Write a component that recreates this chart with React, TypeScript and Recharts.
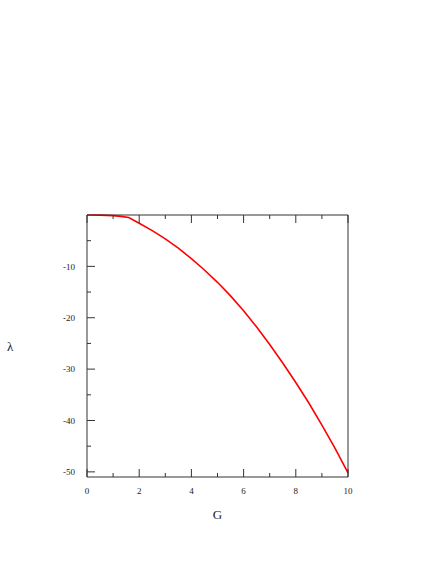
import React from 'react';
import { LineChart, Line, XAxis, YAxis } from 'recharts';

const gValues = [0, 0.5, 1, 1.3, 1.6, 2, 2.5, 3, 3.5, 4, 4.5, 5, 5.5, 6, 6.5, 7, 7.5, 8, 8.5, 9, 9.5, 10];
const lambdaValues = [0, -0.03, -0.12, -0.26, -0.48, -1.6, -3.05, -4.65, -6.45, -8.5, -10.7, -13.1, -15.75, -18.65, -21.8, -25.2, -28.8, -32.6, -36.6, -40.9, -45.4, -50.2];
const xTicks = [0, 1, 2, 3, 4, 5, 6, 7, 8, 9, 10];
const yTicks = [-50, -45, -40, -35, -30, -25, -20, -15, -10, -5];

const data = gValues.map((g, i) => ({ g, lambda: lambdaValues[i] }));

const FONT = '"Liberation Serif", "DejaVu Serif", serif';
const AXIS = '#333';

const BottomTick = (props: any) => {
  const { x, y, payload } = props;
  const major = payload.value % 2 === 0;
  return (
    <g>
      <line x1={x} y1={y} x2={x} y2={y - (major ? 8 : 4)} stroke={AXIS} strokeWidth={1} />
      {major && (
        <text x={x} y={y + 17} textAnchor="middle" fontSize={9} fontFamily={FONT} fill="#222">
          {payload.value}
        </text>
      )}
    </g>
  );
};

const TopTick = (props: any) => {
  const { x, y, payload } = props;
  const major = payload.value % 2 === 0;
  return <line x1={x} y1={y} x2={x} y2={y + (major ? 8 : 4)} stroke={AXIS} strokeWidth={1} />;
};

const LeftTick = (props: any) => {
  const { x, y, payload } = props;
  const major = payload.value % 10 === 0;
  return (
    <g>
      <line x1={x} y1={y} x2={x + (major ? 8 : 4)} y2={y} stroke={AXIS} strokeWidth={1} />
      {major && (
        <text x={x - 12} y={y} dy="0.35em" textAnchor="end" fontSize={9} fontFamily={FONT} fill="#222">
          {payload.value}
        </text>
      )}
    </g>
  );
};

const RightTick = (props: any) => {
  const { x, y, payload } = props;
  const major = payload.value % 10 === 0;
  return <line x1={x} y1={y} x2={x - (major ? 8 : 4)} y2={y} stroke={AXIS} strokeWidth={1} />;
};

export default function App() {
  return (
    <div style={{ position: 'fixed', left: 0, top: 0, width: 436, height: 564, background: '#fff' }}>
      <LineChart width={436} height={564} data={data} margin={{ top: 214, right: 87, bottom: 37, left: 0 }}>
        <XAxis
          xAxisId="bottom"
          dataKey="g"
          type="number"
          domain={[0, 10]}
          ticks={xTicks}
          interval={0}
          tickLine={false}
          tickSize={0}
          tickMargin={0}
          tick={<BottomTick />}
          axisLine={{ stroke: AXIS, strokeWidth: 1 }}
          height={50}
          orientation="bottom"
          label={{ value: 'G', position: 'insideBottom', offset: 8, fontSize: 13, fontFamily: FONT, fill: '#222' }}
        />
        <XAxis
          xAxisId="top"
          dataKey="g"
          type="number"
          domain={[0, 10]}
          ticks={xTicks}
          interval={0}
          tickLine={false}
          tickSize={0}
          tickMargin={0}
          tick={<TopTick />}
          axisLine={{ stroke: AXIS, strokeWidth: 1 }}
          height={1}
          orientation="top"
        />
        <YAxis
          yAxisId="left"
          type="number"
          domain={[-51, 0]}
          ticks={yTicks}
          interval={0}
          tickLine={false}
          tickSize={0}
          tickMargin={0}
          tick={<LeftTick />}
          axisLine={{ stroke: AXIS, strokeWidth: 1 }}
          width={87}
          orientation="left"
          label={{ value: 'λ', position: 'insideLeft', offset: 7, angle: 0, fontSize: 13, fontFamily: FONT, fill: '#222' }}
        />
        <YAxis
          yAxisId="right"
          type="number"
          domain={[-51, 0]}
          ticks={yTicks}
          interval={0}
          tickLine={false}
          tickSize={0}
          tickMargin={0}
          tick={<RightTick />}
          axisLine={{ stroke: AXIS, strokeWidth: 1 }}
          width={1}
          orientation="right"
        />
        <Line
          xAxisId="bottom"
          yAxisId="left"
          dataKey="lambda"
          type="linear"
          stroke="#ff0000"
          strokeWidth={1.6}
          dot={false}
          isAnimationActive={false}
        />
      </LineChart>
    </div>
  );
}
